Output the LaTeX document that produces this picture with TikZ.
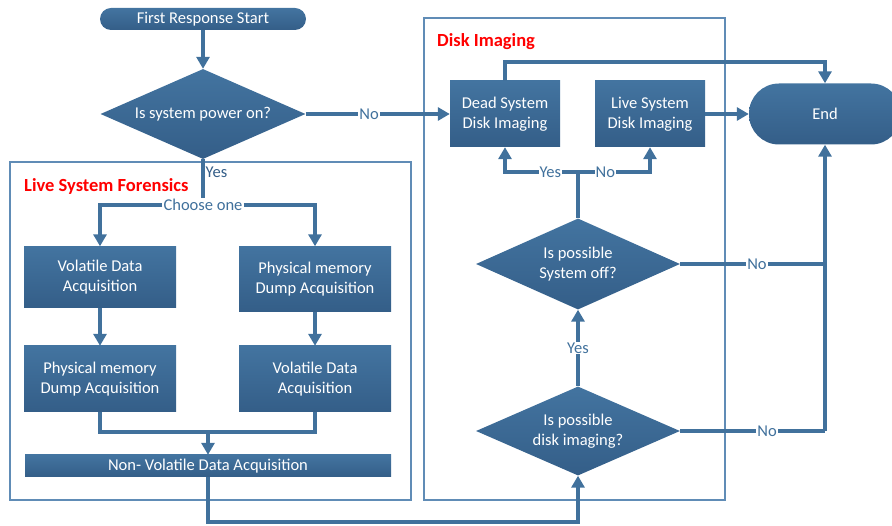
\documentclass[tikz,border=0pt]{standalone}
\usepackage{fontspec}
\setmainfont{Carlito}
\usepackage{tikz}
\usetikzlibrary{arrows.meta, shapes.geometric, positioning}
\usepackage{xcolor}
\definecolor{steeltop}{RGB}{67,116,160}
\definecolor{steelbottom}{RGB}{52,94,136}
\definecolor{steelline}{RGB}{65,113,156}
\definecolor{steelframe}{RGB}{96,140,182}
\tikzset{darkbluebox/.style={rectangle, top color=steeltop, bottom color=steelbottom, draw=none, text=white, align=center, inner sep=2pt, font=\fontsize{16.5}{20.5}\selectfont},
darkbluepill/.style={darkbluebox, rounded corners=#1},
darkbluediamond/.style={diamond, top color=steeltop, bottom color=steelbottom, draw=none, text=white, align=center, inner sep=0pt, aspect=2.27, font=\fontsize{16.5}{20.5}\selectfont},
steelflow/.style={draw=steelline, line width=3.4pt, -{Triangle[width=13pt, length=12pt]}},
steelwire/.style={draw=steelline, line width=3.4pt},
steellabel/.style={fill=white, text=steelline, inner sep=1pt, font=\fontsize{16.5}{20}\selectfont},
steelframebox/.style={draw=steelframe, line width=1.4pt},
redtitle/.style={text=red, anchor=west, inner sep=0pt, font=\fontsize{18.5}{20}\selectfont\bfseries}}

\begin{document}
\begin{tikzpicture}[x=1pt, y=-1pt]
        \useasboundingbox (0,0) rectangle (892,526);
        % Frames
        \draw[steelframebox] (10,162) rectangle (411,500);
        \draw[steelframebox] (424,18) rectangle (725,500);
        \node[redtitle] (livetitle) at (24,186) {Live System Forensics};
        \node[redtitle] (disktitle) at (437,42) {Disk Imaging};
        % Nodes
        \node[darkbluepill=11pt, minimum width=206pt, minimum height=22pt] (start) at (203,19) {First Response Start};
        \node[darkbluediamond, minimum width=205pt, minimum height=90pt] (power) at (203,114) {Is system power on?};
        \node[steellabel] (choose) at (203,205) {Choose one};
        \node[darkbluebox, minimum width=152pt, minimum height=61pt] (volL) at (100,277) {Volatile Data\\Acquisition};
        \node[darkbluebox, minimum width=152pt, minimum height=65pt] (physR) at (315,279) {Physical memory\\Dump Acquisition};
        \node[darkbluebox, minimum width=152pt, minimum height=66pt] (physL) at (100,379) {Physical memory\\Dump Acquisition};
        \node[darkbluebox, minimum width=152pt, minimum height=66pt] (volR) at (315,379) {Volatile Data\\Acquisition};
        \node[darkbluebox, minimum width=366pt, minimum height=22pt] (nonvol) at (208,466) {Non- Volatile Data Acquisition};
        \node[darkbluebox, minimum width=110pt, minimum height=66pt] (dead) at (505,114) {Dead System\\Disk Imaging};
        \node[darkbluebox, minimum width=110pt, minimum height=66pt] (live) at (650,114) {Live System\\Disk Imaging};
        \node[darkbluepill=30pt, minimum width=152pt, minimum height=61pt] (finish) at (825,114) {End};
        \node[darkbluediamond, minimum width=204pt, minimum height=91pt] (offq) at (578,264) {Is possible\\System off?};
        \node[darkbluediamond, minimum width=204pt, minimum height=89pt] (diskq) at (578,431) {Is possible\\disk imaging?};
        % Turning points
        \coordinate (join) at (208,432);
        \coordinate (bottomturn) at (400,522);
        \coordinate (offsplit) at (578,172);
        \coordinate (offend) at (825,264);
        \coordinate (diskend) at (825,431);
        \coordinate (topturn) at (700,62);
        % Connectors
        \draw[steelflow] (start) -- (power);
        \draw[steelflow] (power.east) -- node[steellabel, pos=0.44] {No} (dead.west);
        \draw[steelwire] (power.south) -- node[steellabel, right, pos=0.33, text=steelbottom] {Yes} (choose.north);
        \draw[steelflow] (choose.west) -| (volL.north);
        \draw[steelflow] (choose.east) -| (physR.north);
        \draw[steelflow] (volL) -- (physL);
        \draw[steelflow] (physR) -- (volR);
        \draw[steelwire] (physL.south) |- (join) -| (volR.south);
        \draw[steelflow] (join) -- (nonvol.north);
        \draw[steelflow] (nonvol.south) |- (bottomturn) -| (diskq.south);
        \draw[steelflow] (diskq.north) -- node[steellabel] {Yes} (offq.south);
        \draw[steelwire] (offq.north) -- (offsplit);
        \draw[steelflow] (offsplit) -| node[steellabel, pos=0.19] {Yes} (dead.south);
        \draw[steelflow] (offsplit) -| node[steellabel, pos=0.19] {No} (live.south);
        \draw[steelwire] (offq.east) -- node[steellabel, pos=0.53] {No} (offend);
        \draw[steelwire] (diskq.east) -- node[steellabel, pos=0.6] {No} (diskend);
        \draw[steelflow] (diskend) -- (finish.south);
        \draw[steelflow] (dead.north) |- (topturn) -| (finish.north);
        \draw[steelflow] (live) -- (finish);
\end{tikzpicture}
\end{document}
